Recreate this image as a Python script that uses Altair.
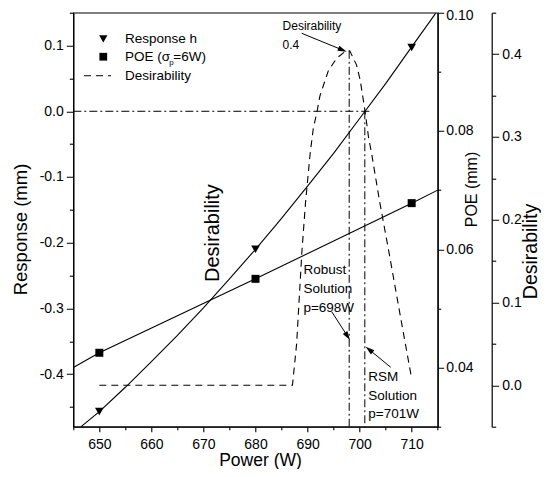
import altair as alt
import pandas as pd

FONT = "Liberation Sans"

# ---------------- axis tick values ----------------
x_ticks = [645, 650, 655, 660, 665, 670, 675, 680, 685, 690, 695, 700, 705, 710, 715]
r_ticks = [-0.45, -0.4, -0.35, -0.3, -0.25, -0.2, -0.15, -0.1, -0.05, 0.0, 0.05, 0.1, 0.15]
poe_ticks = [0.03, 0.04, 0.05, 0.06, 0.07, 0.08, 0.09, 0.10]
d_ticks = [-0.05, 0.0, 0.05, 0.1, 0.15, 0.2, 0.25, 0.3, 0.35, 0.4, 0.45]

# ---------------- series ----------------
resp_curve_p = [646.5, 650, 655, 660, 665, 670, 675, 680, 685, 690, 695, 700, 705, 710, 714.6]
resp_curve_h = [-0.480, -0.457, -0.420, -0.381, -0.341, -0.299, -0.255, -0.210, -0.163,
                -0.114, -0.064, -0.011, 0.042, 0.098, 0.149]
resp_pts_p = [650, 680, 710]
resp_pts_h = [-0.457, -0.210, 0.097]

poe_line_p = [645, 650, 680, 710, 715]
poe_line_v = [0.0400, 0.0425, 0.0550, 0.0678, 0.0700]
poe_pts_p = [650, 680, 710]
poe_pts_v = [0.0425, 0.0550, 0.0678]

des_p = [650, 687.1, 687.9, 688.9, 689.6, 690.5, 691.1, 691.8, 692.4, 694.0, 695.6, 697.2,
         698.1, 699.4, 700.1, 700.7, 701.2, 701.7, 702.3, 703.9, 705.8, 707.7, 710.0]
des_v = [0.0, 0.0, 0.05, 0.16, 0.22, 0.28, 0.31, 0.33, 0.35, 0.38, 0.395, 0.403,
         0.404, 0.387, 0.369, 0.345, 0.324, 0.30, 0.28, 0.22, 0.155, 0.088, 0.008]

robust_p = 698
robust_top_d = 0.404
rsm_p = 701
zero_line_end_p = 702

# ---------------- frames ----------------
resp_curve = pd.DataFrame({"p": resp_curve_p, "r": resp_curve_h})
resp_pts = pd.DataFrame({"p": resp_pts_p, "r": resp_pts_h})
poe_line = pd.DataFrame({"p": poe_line_p, "v": poe_line_v})
poe_pts = pd.DataFrame({"p": poe_pts_p, "v": poe_pts_v})
des = pd.DataFrame({"p": des_p, "d": des_v})
zero_line = pd.DataFrame({"p": [645], "p2": [zero_line_end_p], "r": [0.0]})
rsm_line = pd.DataFrame({"p": [rsm_p], "r": [0.0], "r2": [-0.48]})
robust_line = pd.DataFrame({"p": [robust_p], "d": [robust_top_d], "d2": [-0.05]})

# annotation placement (in response-axis units)
ann_small = pd.DataFrame({"p": [685.2, 685.2], "r": [0.1302, 0.1008],
                          "t": ["Desirability", "0.4"]})
ann_mid = pd.DataFrame({
    "p": [689.2, 689.2, 689.2, 701.67, 701.67, 701.67],
    "r": [-0.2416, -0.2705, -0.2994, -0.4049, -0.4329, -0.4612],
    "t": ["Robust", "Solution", "p=698W", "RSM", "Solution", "p=701W"]})
ann_big = pd.DataFrame({"p": [671.9], "r": [-0.1853], "t": ["Desirability"]})
arrows = pd.DataFrame({"p": [688.87, 694.64, 705.97], "r": [0.1187, -0.305, -0.3896],
                       "p2": [696.72, 697.68, 701.83], "r2": [0.0932, -0.3423, -0.3626]})
heads = pd.DataFrame({"p": [696.72, 697.68, 701.83], "r": [0.0932, -0.3423, -0.3626],
                      "a": [22.2, 57.1, 219.5]})
leg_tri = pd.DataFrame({"p": [650.76], "r": [0.110]})
leg_sq = pd.DataFrame({"p": [650.76], "r": [0.083]})
leg_dash = pd.DataFrame({"p": [647.06, 652.24], "r": [0.0541, 0.0541]})
leg_txt = pd.DataFrame({"p": [654.93, 654.93], "r": [0.110, 0.0541],
                        "t": ["Response h", "Desirability"]})
leg_poe = pd.DataFrame({"p": [654.93], "r": [0.083]})

# ---------------- scales / axes ----------------
MINUS_FIX = "replace(format(datum.value, '{f}'), '\u2212', '-')"


def minor_dash(test, length):
    return {"condition": {"test": test, "value": [length, 30]}, "value": [1, 0]}


x_minor_test = "datum.value % 10 != 0"
xs = alt.Scale(domain=[645, 715], nice=False, zero=False)
x_axis = alt.Axis(orient="bottom", values=x_ticks,
                  labelExpr=f"{x_minor_test} ? '' : format(datum.value, 'd')",
                  tickSize=5, tickDash=minor_dash(x_minor_test, 3), labelPadding=5.5,
                  title="Power (W)", titleX=186.7, titleY=39.1, titleAlign="center",
                  titleBaseline="alphabetic", titleFontSize=17.5)

r_minor_test = "abs(datum.value * 10 - round(datum.value * 10)) > 0.01"
rs = alt.Scale(domain=[-0.48, 0.15], nice=False, zero=False)
r_axis = alt.Axis(orient="left", values=r_ticks,
                  labelExpr=f"{r_minor_test} ? '' : " + MINUS_FIX.format(f=".1f"),
                  tickSize=7, tickDash=minor_dash(r_minor_test, 4), labelPadding=3,
                  title="Response (mm)", titleAngle=270, titleX=-52.6, titleY=216.3,
                  titleAlign="center", titleBaseline="middle", titleFontSize=18.5)

p_minor_test = "abs(datum.value * 50 - round(datum.value * 50)) > 0.01"
ps = alt.Scale(domain=[0.03, 0.10], nice=False, zero=False)
p_axis = alt.Axis(orient="right", values=poe_ticks,
                  labelExpr=f"{p_minor_test} ? '' : format(datum.value, '.2f')",
                  labelFlush=True, labelFlushOffset=4,
                  tickSize=6, tickDash=minor_dash(p_minor_test, 3), labelPadding=2,
                  title="POE (mm)", titleAngle=270, titleX=34, titleY=176.3,
                  titleAlign="center", titleBaseline="middle", titleFontSize=16)

d_minor_test = "abs(datum.value * 10 - round(datum.value * 10)) > 0.01"
ds = alt.Scale(domain=[-0.05, 0.45], nice=False, zero=False)
d_axis = alt.Axis(orient="right", offset=54, values=d_ticks,
                  labelExpr=f"{d_minor_test} ? '' : " + MINUS_FIX.format(f=".1f"),
                  tickSize=7, tickDash=minor_dash(d_minor_test, 4), labelPadding=3,
                  title="Desirability", titleAngle=270, titleX=38.8, titleY=238.3,
                  titleAlign="center", titleBaseline="middle", titleFontSize=19.5)


def XR(f="p"):
    return alt.X(f"{f}:Q", scale=xs, axis=x_axis)


def YR(f="r"):
    return alt.Y(f"{f}:Q", scale=rs, axis=r_axis)


def XN(f="p"):
    return alt.X(f"{f}:Q", scale=xs, axis=None)


DASHDOT = [8, 3, 2, 3]

# ---------------- response group ----------------
r_curve = alt.Chart(resp_curve).mark_line(color="black", strokeWidth=1.1).encode(
    x=XR(), y=YR(), order="p:Q")
r_pts = alt.Chart(resp_pts).mark_point(shape="triangle-down", filled=True, color="black",
                                       size=75, opacity=1).encode(x=XR(), y=YR())
z_line = alt.Chart(zero_line).mark_rule(color="black", strokeWidth=1,
                                        strokeDash=DASHDOT).encode(
    x=XR(), x2=alt.X2("p2:Q"), y=YR())
rsm_rule = alt.Chart(rsm_line).mark_rule(color="black", strokeWidth=1,
                                         strokeDash=DASHDOT).encode(
    x=XR(), y=YR(), y2=alt.Y2("r2:Q"))
t_small = alt.Chart(ann_small).mark_text(font=FONT, fontSize=12, align="left",
                                         baseline="middle", color="black").encode(
    x=XR(), y=YR(), text="t:N")
t_mid = alt.Chart(ann_mid).mark_text(font=FONT, fontSize=13.5, align="left",
                                     baseline="middle", color="black").encode(
    x=XR(), y=YR(), text="t:N")
t_big = alt.Chart(ann_big).mark_text(font=FONT, fontSize=20, align="center",
                                     baseline="middle", angle=270, color="black").encode(
    x=XR(), y=YR(), text="t:N")
arr = alt.Chart(arrows).mark_rule(color="black", strokeWidth=1).encode(
    x=XR(), y=YR(), x2=alt.X2("p2:Q"), y2=alt.Y2("r2:Q"))
arr_head = alt.Chart(heads).mark_point(shape="M1,0L-1,-0.6L-1,0.6Z", filled=True,
                                       color="black", size=81, opacity=1).encode(
    x=XR(), y=YR(), angle=alt.Angle("a:Q", scale=None))
l_tri = alt.Chart(leg_tri).mark_point(shape="triangle-down", filled=True, color="black",
                                      size=70, opacity=1).encode(x=XR(), y=YR())
l_sq = alt.Chart(leg_sq).mark_point(shape="square", filled=True, color="black",
                                    size=60, opacity=1).encode(x=XR(), y=YR())
l_dash = alt.Chart(leg_dash).mark_line(color="black", strokeWidth=1,
                                       strokeDash=[7, 5]).encode(x=XR(), y=YR())
l_txt = alt.Chart(leg_txt).mark_text(font=FONT, fontSize=13.5, align="left",
                                     baseline="middle", color="black").encode(
    x=XR(), y=YR(), text="t:N")
l_poe1 = alt.Chart(leg_poe).mark_text(font=FONT, fontSize=13.5, align="left",
                                      baseline="middle", color="black",
                                      text="POE (\u03c3").encode(x=XR(), y=YR())
l_poe2 = alt.Chart(leg_poe).mark_text(font=FONT, fontSize=8, align="left",
                                      baseline="middle", color="black", dx=44.3, dy=6,
                                      text="p").encode(x=XR(), y=YR())
l_poe3 = alt.Chart(leg_poe).mark_text(font=FONT, fontSize=13.5, align="left",
                                      baseline="middle", color="black", dx=48.3,
                                      text="=6W)").encode(x=XR(), y=YR())

resp_group = alt.layer(r_curve, r_pts, z_line, rsm_rule, t_small, t_mid, t_big, arr,
                       arr_head, l_tri, l_sq, l_dash, l_txt, l_poe1, l_poe2, l_poe3)

# ---------------- POE group ----------------
p_line = alt.Chart(poe_line).mark_line(color="black", strokeWidth=1.1).encode(
    x=XN(), y=alt.Y("v:Q", scale=ps, axis=p_axis), order="p:Q")
p_pts = alt.Chart(poe_pts).mark_point(shape="square", filled=True, color="black", size=64,
                                      opacity=1).encode(
    x=XN(), y=alt.Y("v:Q", scale=ps, axis=p_axis))
poe_group = alt.layer(p_line, p_pts)

# ---------------- desirability group ----------------
d_line = alt.Chart(des).mark_line(color="black", strokeWidth=1.1, strokeDash=[7, 5]).encode(
    x=XN(), y=alt.Y("d:Q", scale=ds, axis=d_axis), order="p:Q")
d_rule = alt.Chart(robust_line).mark_rule(color="black", strokeWidth=1,
                                          strokeDash=DASHDOT).encode(
    x=XN(), y=alt.Y("d:Q", scale=ds, axis=d_axis), y2=alt.Y2("d2:Q"))
des_group = alt.layer(d_line, d_rule)

chart = alt.layer(resp_group, poe_group, des_group).resolve_scale(
    x="independent", y="independent"
).resolve_axis(
    x="independent", y="independent"
).properties(
    width=364.4, height=414,
    autosize=alt.AutoSizeParams(type="none"),
    padding={"left": 65.3, "top": 4.7, "right": 103.3, "bottom": 42.3},
).configure_view(
    stroke="black", strokeWidth=1.2
).configure_axis(
    domainColor="black", tickColor="black", labelColor="black", titleColor="black",
    labelFont=FONT, titleFont=FONT, labelFontSize=14, titleFontWeight="normal",
    grid=False, domainWidth=1.2, tickWidth=1.1
)

chart.save("out.html", embed_options={"renderer": "svg", "actions": False})
